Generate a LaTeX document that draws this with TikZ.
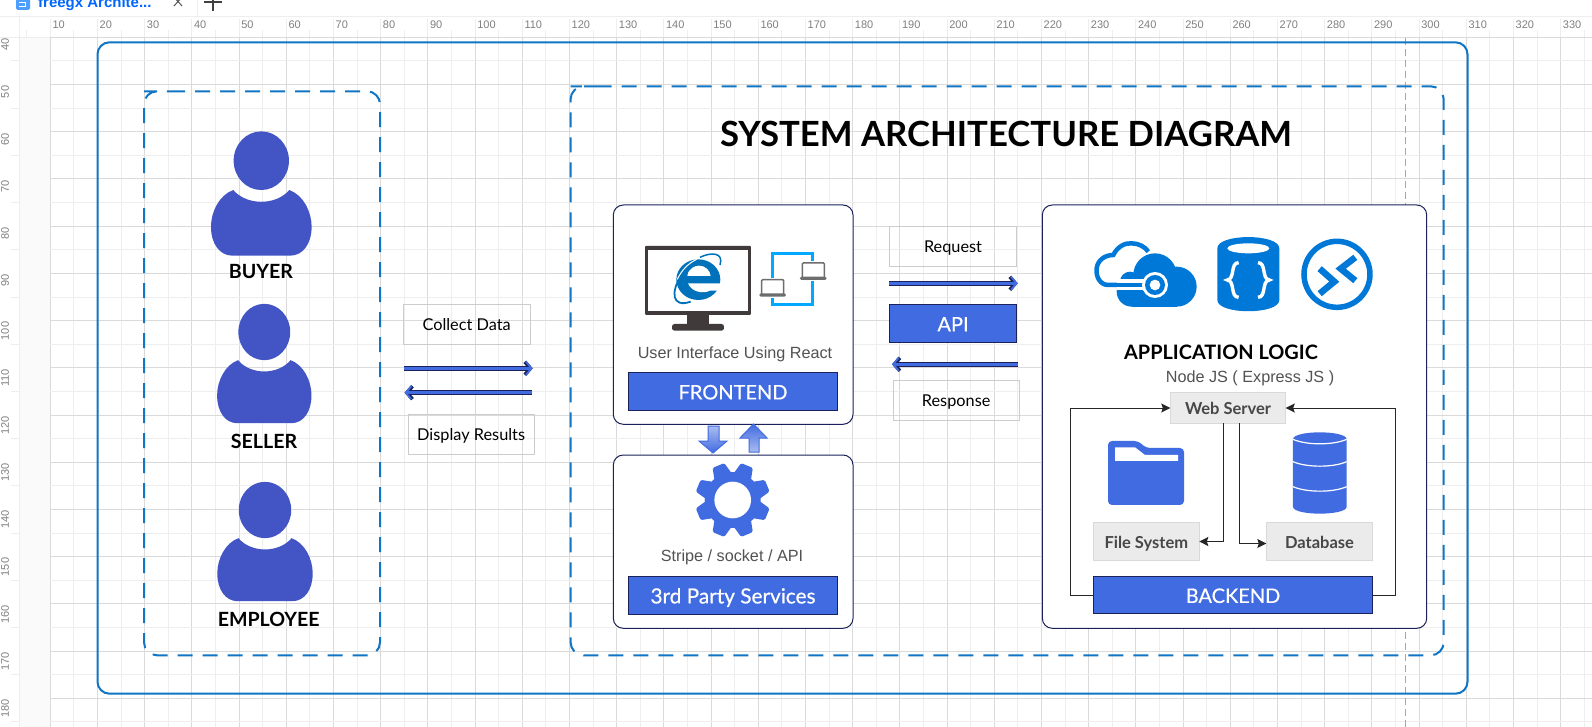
\documentclass[tikz,border=0pt]{standalone}
\usepackage{fontspec}
\usepackage{tikz}
\usetikzlibrary{arrows.meta}
\setmainfont{Lato}
\newfontfamily\arialfont{Liberation Sans}
\definecolor{royal}{HTML}{416BE0}
\definecolor{navy}{HTML}{1A2259}
\definecolor{frameblue}{HTML}{0F75C4}
\definecolor{personblue}{HTML}{4355C4}
\definecolor{iconblue}{HTML}{0078D7}
\definecolor{ieblue}{HTML}{0072BC}
\definecolor{netblue}{HTML}{00A8FF}
\definecolor{screengray}{HTML}{413A3A}
\definecolor{lapgray}{HTML}{6D6D6D}
\definecolor{softgray}{HTML}{CCCCCC}
\definecolor{majorgrid}{HTML}{DADADA}
\definecolor{minorgrid}{HTML}{EEEEEE}
\newcommand{\fs}[1]{\fontsize{#1}{#1}\selectfont}
\newcommand{\majorstep}{47.2}
\newcommand{\personicon}[4]{
    \begin{scope}[shift={(#1,#2)},xscale=#3,yscale=#4]
        \fill[personblue] (0,0) circle [x radius=83,y radius=88];
        \fill[personblue] (-84,88) .. controls (-44,135) and (44,135) .. (84,88)
            .. controls (126,103) and (151,153) .. (151,198)
            .. controls (151,248) and (126,285) .. (86,285) -- (-86,285)
            .. controls (-126,285) and (-151,248) .. (-151,198)
            .. controls (-151,153) and (-126,103) .. (-84,88) -- cycle;
    \end{scope}
}
\newcommand{\laptopicon}[2]{
    \begin{scope}[shift={(#1,#2)}]
        \fill[white] (-3,-4) rectangle (83,56);
        \draw[lapgray,line width=1.5pt,rounded corners=1pt] (7,45) -- (7,2) -- (73,2) -- (73,45);
        \fill[lapgray,rounded corners=1.5pt] (0,43) rectangle (80,53);
    \end{scope}
}
\tikzset{
    panel/.style={draw=navy,fill=white,line width=1pt,rounded corners=10pt,inner sep=0,outer sep=0},
    bluebar/.style={draw=navy,fill=royal,line width=1pt,inner sep=0,outer sep=0,text=white,font=\fs{20}\addfontfeature{FakeBold=0.5},text height=15.8pt,text depth=0pt},
    lightbox/.style={draw=softgray,line width=1pt,inner sep=0,outer sep=0,text=black,font=\fs{16.3},text height=12.6pt,text depth=0pt},
    greybox/.style={draw=black!15,fill=black!8,line width=1pt,inner sep=0,outer sep=0,text=black!72,font=\fs{16.5}\bfseries,text height=13.6pt,text depth=0pt},
    usertext/.style={anchor=base,inner sep=0,font=\fs{19.6}\bfseries},
    greytext/.style={anchor=base,inner sep=0,text=black!68,font=\arialfont\fs{16.2}},
    flowarrow/.style={
        preaction={draw=navy,line width=4.6pt,-{Straight Barb[length=5.5pt,width=13pt,line width=3.6pt]}},
        draw=royal,line width=2.8pt,shorten <=1pt,shorten >=1.3pt,-{Straight Barb[length=5.5pt,width=13pt,line width=1.8pt]}},
    linkarrow/.style={draw=black!85,line width=1pt,-{Stealth[length=9pt,width=9pt,inset=1.5pt]}},
    framedash/.style={draw=frameblue,line width=2pt,rounded corners=13pt,dash pattern=on 15pt off 10pt},
    blockarrow/.style={draw=royal,line width=1pt}
}
\begin{document}
\begin{tikzpicture}[x=1pt,y=-1pt]
    \useasboundingbox (0,0) rectangle (1592,727);
    \fill[white] (0,0) rectangle (1592,727);

    \fill[black!2] (19,38) rectangle (50,727);
    \foreach \k in {0,...,32}{
        \pgfmathsetmacro{\xa}{50.3+\majorstep*\k}
        \pgfmathsetmacro{\xb}{50.3+\majorstep*(\k+0.5)}
        \draw[minorgrid,line width=1pt] (\xb,38) -- (\xb,727);
        \draw[minorgrid,line width=1pt] (\xb,30) -- (\xb,38);
        \draw[majorgrid,line width=1pt] (\xa,38) -- (\xa,727);
        \draw[minorgrid,line width=1pt] (\xa,19) -- (\xa,38);
        \pgfmathtruncatemacro{\lab}{10*(\k+1)}
        \node[anchor=west,inner sep=0,text=black!50,font=\arialfont\fs{11}] (toplabel\k) at (\xa+2,25) {\lab};
    }
    \foreach \k in {0,...,14}{
        \pgfmathsetmacro{\ya}{37.4+\majorstep*\k}
        \pgfmathsetmacro{\yb}{37.4+\majorstep*(\k+0.5)}
        \draw[minorgrid,line width=1pt] (50,\yb) -- (1592,\yb);
        \draw[minorgrid,line width=1pt] (11,\yb) -- (19,\yb);
        \draw[majorgrid,line width=1pt] (50,\ya) -- (1592,\ya);
        \pgfmathtruncatemacro{\lab}{40+10*\k}
        \node[anchor=east,rotate=90,inner sep=0,text=black!50,font=\arialfont\fs{11}] (leftlabel\k) at (5,\ya+1) {\lab};
    }
    \draw[minorgrid,line width=1pt] (0,17) -- (1592,17);
    \draw[minorgrid,line width=1pt] (0,38) -- (50,38);
    \draw[minorgrid,line width=1pt] (19,17) -- (19,727);
    \draw[minorgrid,line width=1pt] (26.7,30) -- (26.7,38);
    \draw[minorgrid,line width=1pt] (197,0) -- (197,17);
    \draw[black!35,line width=1pt,dash pattern=on 7pt off 4pt] (1405.5,38) -- (1405.5,727);

    \fill[netblue!70!blue!70,rounded corners=1.5pt] (16,-3) rectangle (30,10);
    \draw[white,line width=1pt] (19,3) -- (25,3) -- (25,7) -- (19,7);
    \node[anchor=base west,inner sep=0,text=blue!60!cyan,font=\arialfont\fs{15}\bfseries] (tabtitle) at (38,8) {freegx Archite...};
    \draw[black!65,line width=1pt] (174,-3) -- (182,6) (182,-3) -- (174,6);
    \draw[black!75,line width=2pt] (204,2) -- (222,2) (213,-7) -- (213,11);

    \draw[frameblue,line width=2pt,rounded corners=12pt] (97.5,42.3) rectangle (1467.5,693.7);
    \draw[framedash] (157,91.3) -- (380,91.3) -- (380,655.3) -- (144,655.3) -- (144,91.3) -- cycle;
    \draw[framedash] (583.6,86.3) -- (1443.7,86.3) -- (1443.7,655.3) -- (570.6,655.3) -- (570.6,86.3) -- cycle;

    \personicon{261.3}{160.7}{0.3333}{0.3333}
    \personicon{264.3}{332}{0.3125}{0.32}
    \personicon{265}{510}{0.316}{0.32}
    \node[usertext] (buyer) at (261,279) {BUYER};
    \node[usertext] (seller) at (264,448.3) {SELLER};
    \node[usertext] (employee) at (268.7,626) {EMPLOYEE};

    \node[lightbox,minimum width=126.7pt,minimum height=40pt] (collect) at (466.65,324.3) {Collect Data};
    \node[lightbox,minimum width=125.7pt,minimum height=39.6pt] (display) at (471.15,434.5) {Display Results};
    \coordinate (collectl) at (403.3,368.3);
    \coordinate (collectr) at (534,368.3);
    \coordinate (displayl) at (403.3,392.7);
    \coordinate (displayr) at (533,392.7);
    \draw[flowarrow] (collectl) -- (collectr);
    \draw[flowarrow] (displayr) -- (displayl);

    \node[anchor=base,inner sep=0,font=\fs{34.7}\bfseries] (title) at (1006,147) {SYSTEM ARCHITECTURE DIAGRAM};

    \node[panel,minimum width=239.7pt,minimum height=219.3pt] (frontend) at (733.15,314.65) {};
    \node[panel,minimum width=239.7pt,minimum height=173.3pt] (thirdparty) at (733.15,541.65) {};
    \node[panel,minimum width=384.4pt,minimum height=423.3pt] (applogic) at (1234.5,416.65) {};

    \begin{scope}[shift={(600,200)},scale=0.3333]
        \fill[screengray,rounded corners=1pt] (135,138) rectangle (453,345);
        \fill[white] (143,150) rectangle (445,333);
        \fill[screengray] (262,345) rectangle (327,372);
        \fill[screengray,rounded corners=2.5pt] (216,372) rectangle (372,392);
        \fill[ieblue] (295,239) circle [x radius=66,y radius=61];
        \fill[white] (262,228) .. controls (265,205) and (285,197) .. (297,197)
            .. controls (315,197) and (330,210) .. (332,228) -- cycle;
        \fill[white] (264,250) -- (366,250) -- (366,272) -- (330,272)
            .. controls (310,282) and (275,277) .. (264,250) -- cycle;
        \draw[ieblue,line width=1.5pt] (300,172) .. controls (335,155) and (372,158) .. (360,195);
        \draw[ieblue,line width=1.8pt] (243,228) .. controls (212,275) and (215,325) .. (272,305);
        \draw[white,line width=1pt] (232,238) .. controls (245,210) and (265,190) .. (290,178);
        \draw[netblue,line width=2.6pt] (518,160) rectangle (638,313);
        \laptopicon{600}{187}
        \laptopicon{478}{237}
    \end{scope}
    \node[greytext] (uilabel) at (735,358) {User Interface Using React};
    \node[bluebar,minimum width=209.4pt,minimum height=38.4pt] (frontbar) at (733,391.5) {FRONTEND};

    \draw[blockarrow,top color=royal!45,bottom color=royal] (708,426) -- (719,426) -- (719,441) -- (727,441) -- (713,453) -- (699,441) -- (708,441) -- cycle;
    \draw[blockarrow,top color=royal,bottom color=royal!45] (749,452) -- (759,452) -- (759,438) -- (767,438) -- (753.5,424) -- (740,438) -- (749,438) -- cycle;

    \begin{scope}[shift={(732.7,500)},scale=0.3333]
        \fill[royal] (0,0) circle (84);
        \foreach \a in {22.5,67.5,...,337.5}
            \fill[royal,rotate=\a,rounded corners=1.5pt] (70,-29) -- (112,-19) -- (112,19) -- (70,29) -- cycle;
        \fill[white] (0,0) circle (55);
    \end{scope}
    \node[greytext] (stripelabel) at (732,561.7) {Stripe / socket / API};
    \node[bluebar,minimum width=209.4pt,minimum height=37.6pt,font=\fs{20.8}\addfontfeature{FakeBold=0.5}] (thirdbar) at (733,595.5) {3rd Party Services};

    \node[lightbox,minimum width=127.4pt,minimum height=39.6pt] (request) at (953,246.5) {Request};
    \node[bluebar,minimum width=127.4pt,minimum height=38.4pt] (api) at (953,323.5) {API};
    \node[lightbox,minimum width=125.7pt,minimum height=40pt] (response) at (956.15,400.3) {Response};
    \coordinate (requestl) at (888.3,283.3);
    \coordinate (requestr) at (1019,283.3);
    \coordinate (responsel) at (890.7,364.3);
    \coordinate (responser) at (1019,364.3);
    \draw[flowarrow] (requestl) -- (requestr);
    \draw[flowarrow] (responser) -- (responsel);

    \begin{scope}[shift={(1030,200)},scale=0.3333]
        \draw[iconblue,line width=4.5pt] (265,255) -- (235,255) .. controls (210,255) and (197,230) .. (200,205)
            .. controls (203,180) and (225,165) .. (250,165) .. controls (262,140) and (285,128) .. (305,130)
            .. controls (325,130) and (345,140) .. (355,155);
        \fill[iconblue] (375,225) circle (65);
        \fill[iconblue] (440,260) circle (60);
        \fill[iconblue] (305,275) circle (45);
        \fill[iconblue] (300,245) circle (30);
        \fill[iconblue] (305,260) rectangle (440,320);
        \draw[white,line width=11pt] (262,255) -- (345,255);
        \draw[iconblue,line width=4.5pt] (235,255) -- (345,255);
        \fill[white] (375,255) circle (39);
        \fill[iconblue] (375,255) circle (30);
        \fill[white] (375,255) circle (16);
        \fill[iconblue] (562,145) .. controls (562,100) and (748,100) .. (748,145) -- (748,300)
            .. controls (748,345) and (562,345) .. (562,300) -- cycle;
        \fill[white] (655,145) circle [x radius=63,y radius=15];
        \draw[white,line width=3.4pt] (626,188) .. controls (600,188) and (616,237) .. (592,240)
            .. controls (616,243) and (600,292) .. (626,292);
        \draw[white,line width=3.4pt] (684,188) .. controls (710,188) and (694,237) .. (718,240)
            .. controls (694,243) and (710,292) .. (684,292);
        \draw[iconblue,line width=5.5pt] (921,223) circle (99);
        \draw[iconblue,line width=6.5pt] (976,172) -- (932,206) -- (976,242);
        \draw[iconblue,line width=6.5pt] (869,206) -- (913,245) -- (869,281);
    \end{scope}
    \node[anchor=base,inner sep=0,font=\fs{19.9}\bfseries] (applabel) at (1221,359.3) {APPLICATION LOGIC};
    \node[greytext] (nodelabel) at (1250,382.7) {Node JS ( Express JS )};

    \node[greybox,minimum width=115.4pt,minimum height=30.6pt] (webserver) at (1228,408) {Web Server};
    \node[greybox,minimum width=106pt,minimum height=37.6pt] (filesystem) at (1146.3,541.5) {File System};
    \node[greybox,minimum width=106.4pt,minimum height=37.6pt] (database) at (1319.5,541.5) {Database};
    \node[bluebar,minimum width=279.4pt,minimum height=36.6pt] (backend) at (1233,595) {BACKEND};

    \begin{scope}[shift={(1030,380)},scale=0.3333]
        \fill[royal,rounded corners=4pt] (234,183) -- (325,183) -- (348,204) -- (462,204) -- (462,375) -- (234,375) -- cycle;
        \fill[white] (255,202) -- (315,202) -- (345,225) -- (444,225) -- (444,243) -- (255,243) -- cycle;
        \fill[royal] (789,178) .. controls (789,150) and (950,150) .. (950,178) -- (950,380)
            .. controls (950,408) and (789,408) .. (789,380) -- cycle;
        \foreach \yy in {178,245,320}
            \draw[white,line width=1.2pt] (789,\yy) .. controls (830,\yy+18) and (910,\yy+18) .. (950,\yy);
    \end{scope}

    \coordinate (leftrail) at (1070.7,408);
    \coordinate (rightrail) at (1395.3,408);
    \draw[linkarrow] (backend.west) -| (leftrail) -- (webserver.west);
    \draw[linkarrow] (backend.east) -| (rightrail) -- (webserver.east);
    \draw[linkarrow] ([xshift=-4.7pt]webserver.south) |- (filesystem.east);
    \draw[linkarrow] ([xshift=11.3pt]webserver.south) |- ([yshift=-2pt]database.west);
\end{tikzpicture}
\end{document}
